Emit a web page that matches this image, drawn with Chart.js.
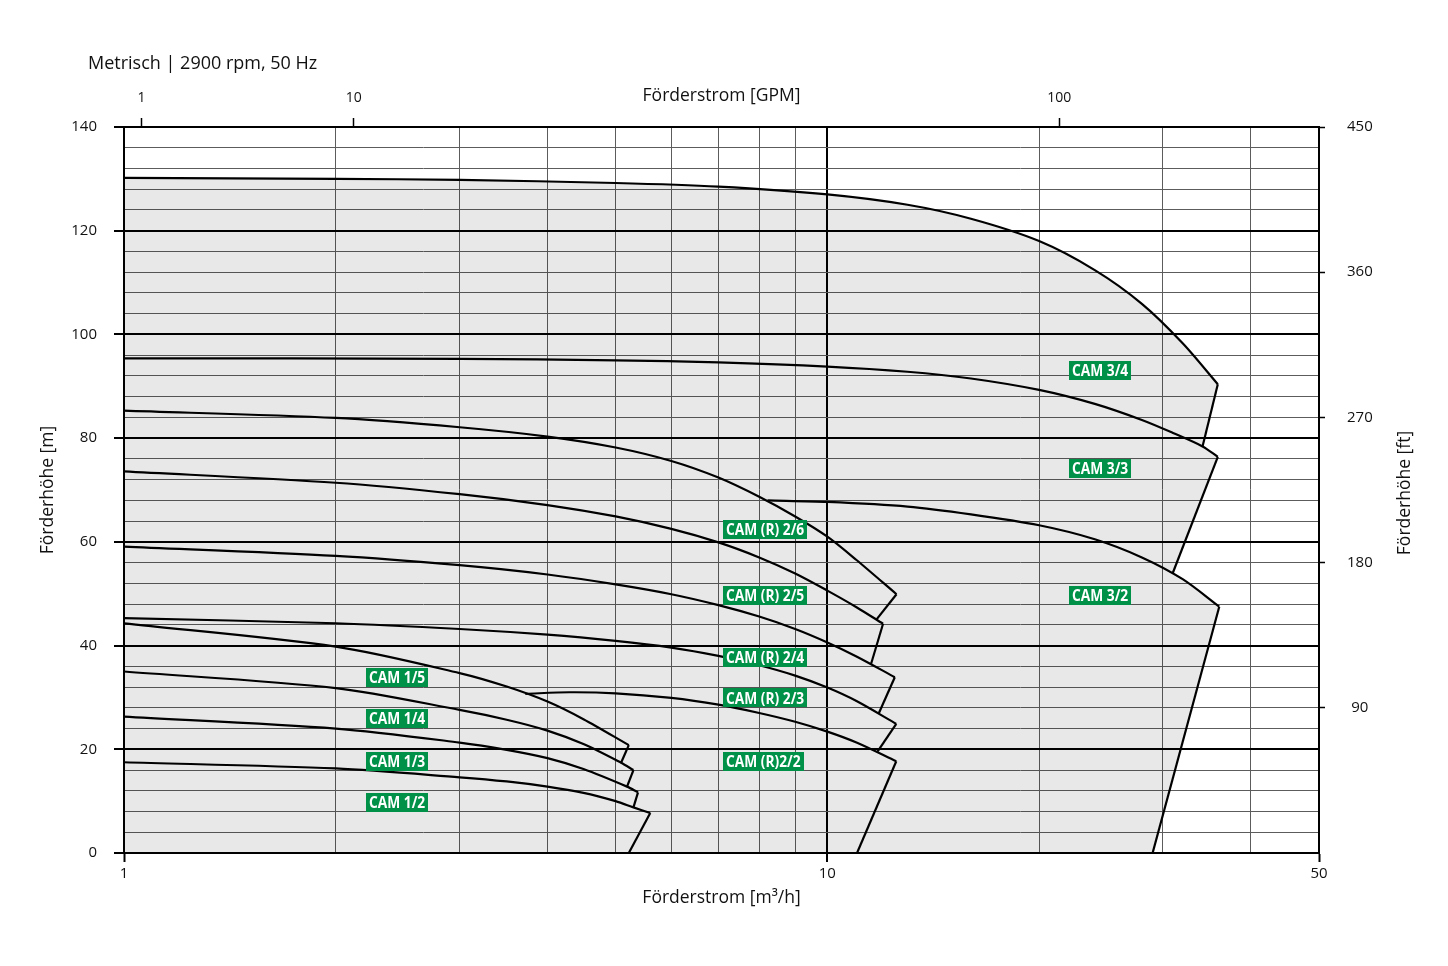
<!DOCTYPE html>
<html lang="de">
<head>
<meta charset="utf-8">
<title>CAM Kennlinien</title>
<script src="https://cdn.jsdelivr.net/npm/chart.js@4.4.1/dist/chart.umd.min.js"></script>
<style>
  html, body { margin: 0; padding: 0; background: #fff; }
  #box { width: 1448px; height: 966px; }
</style>
</head>
<body>
<div id="box"><canvas id="kennlinie"></canvas></div>
<script>
var schrift = "'Open Sans', 'Noto Sans', sans-serif";

var kopfzeile = "Metrisch | 2900 rpm, 50 Hz";
var titelX = "Förderstrom [m³/h]";
var titelX2 = "Förderstrom [GPM]";
var titelY = "Förderhöhe [m]";
var titelY2 = "Förderhöhe [ft]";

// Förderstrom [m3/h] und Förderhöhe [m]
var cam12Q = [1, 2, 3, 3.5, 4, 4.5, 5, 5.3, 5.6];
var cam12H = [17.5, 16.3, 14.6, 13.8, 12.8, 11.6, 10.0, 8.8, 7.7];
var cam13Q = [1, 2, 3, 3.5, 4, 4.5, 5.19, 5.38];
var cam13H = [26.3, 24.0, 21.3, 19.9, 18.3, 16.2, 12.8, 11.7];
var cam14Q = [1, 2, 3, 3.5, 4, 4.5, 5.09, 5.3];
var cam14H = [35.0, 31.8, 27.6, 25.7, 23.6, 21.0, 17.4, 16.0];
var cam15Q = [1, 2, 3, 3.5, 4, 4.5, 5.22];
var cam15H = [44.3, 39.8, 34.7, 32.1, 29.2, 25.8, 20.8];

var cam22Q = [3.72, 4.3, 5, 6, 7, 8, 9, 10, 11, 12.53];
var cam22H = [30.7, 31.0, 30.8, 29.9, 28.6, 27.0, 25.3, 23.4, 21.3, 17.7];
var cam23Q = [1, 2, 3, 4, 5, 6, 7, 8, 9, 10, 11, 12.53];
var cam23H = [45.3, 44.3, 43.2, 42.1, 40.9, 39.6, 38.0, 36.2, 34.2, 31.9, 29.3, 24.9];
var cam24Q = [1, 2, 3, 4, 5, 6, 7, 8, 9, 10, 11, 12.47];
var cam24H = [59.1, 57.3, 55.5, 53.7, 51.8, 49.9, 47.8, 45.6, 43.2, 40.6, 37.9, 33.9];
var cam25Q = [1, 2, 3, 4, 5, 6, 7, 8, 9, 10, 11, 12];
var cam25H = [73.6, 71.4, 69.2, 67.1, 64.9, 62.5, 59.9, 57.0, 53.9, 50.6, 47.4, 44.2];
var cam26Q = [1, 2, 3, 4, 5, 6, 7, 8, 9, 10, 11, 12.54];
var cam26H = [85.3, 83.9, 82.1, 80.3, 78.2, 75.6, 72.4, 68.7, 64.9, 61.0, 56.5, 49.9];

var cam32Q = [8.22, 10, 13, 16, 20, 24, 28, 32, 36.07];
var cam32H = [68.0, 67.7, 66.8, 65.3, 63.2, 60.5, 57.0, 52.8, 47.5];
var cam33Q = [1, 3, 5, 7, 10, 13, 16, 20, 24, 28, 31, 34.15, 35.9];
var cam33H = [95.4, 95.3, 95.0, 94.6, 93.8, 92.8, 91.5, 89.3, 86.6, 83.5, 81.0, 78.4, 76.4];
var cam34Q = [1, 2, 3, 5, 7, 10, 13, 16, 20, 24, 28, 32, 35.9];
var cam34H = [130.2, 130.0, 129.8, 129.2, 128.5, 127.0, 125.0, 122.3, 118.0, 112.4, 105.9, 98.3, 90.4];

// Verbindungslinie vom Kurvenende nach unten (Reihenfolge wie kurven)
var kurven = [
  [cam12Q, cam12H], [cam13Q, cam13H], [cam14Q, cam14H], [cam15Q, cam15H],
  [cam22Q, cam22H], [cam23Q, cam23H], [cam24Q, cam24H], [cam25Q, cam25H], [cam26Q, cam26H],
  [cam32Q, cam32H], [cam33Q, cam33H], [cam34Q, cam34H]
];
var zielQ = [5.22, 5.30, 5.19, 5.09, 11.02, 11.79, 11.83, 11.54, 11.74, 29.0, 30.96, 34.15];
var zielH = [0, 8.8, 12.8, 17.4, 0, 19.6, 26.9, 36.5, 45.0, 0, 53.9, 78.4];

// Beschriftungen (linke Kante)
var etikettText = ["CAM 3/4", "CAM 3/3", "CAM 3/2",
  "CAM (R) 2/6", "CAM (R) 2/5", "CAM (R) 2/4", "CAM (R) 2/3", "CAM (R)2/2",
  "CAM 1/5", "CAM 1/4", "CAM 1/3", "CAM 1/2"];
var etikettQ = [22.09, 22.09, 22.09, 7.10, 7.10, 7.10, 7.10, 7.10, 2.209, 2.209, 2.209, 2.209];
var etikettH = [93.1, 74.2, 49.7, 62.3, 49.7, 37.7, 29.9, 17.6, 33.8, 26.0, 17.6, 9.7];

// Achsen
var xGitter = [1, 2, 3, 4, 5, 6, 7, 8, 9, 10, 20, 30, 40, 50];
var xBeschriftet = [1, 10, 50];
var gpmText = ["1", "10", "100"];
var gpmPos = [1.059, 2.121, 21.36];

function punkte(q, h) {
  return q.map(function (v, i) { return {x: v, y: h[i]}; });
}

var datensaetze = [];
kurven.forEach(function (k, i) {
  var n = k[0].length - 1;
  datensaetze.push({
    data: punkte(k[0], k[1]),
    borderColor: '#000', borderWidth: 2.2, pointRadius: 0,
    tension: 0.3, fill: false, order: 0
  });
  datensaetze.push({
    data: [{x: k[0][n], y: k[1][n]}, {x: zielQ[i], y: zielH[i]}],
    borderColor: '#000', borderWidth: 2.2, pointRadius: 0, fill: false, order: 0
  });
});

// graue Fläche: Umriss aller Kurven, geschlossen über die Nulllinie
var huelle = punkte(cam34Q, cam34H)
  .concat([{x: zielQ[11], y: zielH[11]}])
  .concat(punkte(cam33Q, cam33H).filter(function (p) { return p.x > zielQ[11]; }))
  .concat([{x: zielQ[10], y: zielH[10]}])
  .concat(punkte(cam32Q, cam32H).filter(function (p) { return p.x > zielQ[10]; }))
  .concat([{x: zielQ[9], y: zielH[9]}, {x: 1, y: 0}]);

datensaetze.push({
  data: huelle,
  borderColor: 'rgba(0,0,0,0)', borderWidth: 0, pointRadius: 0, tension: 0,
  fill: 'shape', backgroundColor: 'rgba(0,0,0,0.09)', order: 5
});

var etikettPlugin = {
  id: 'etiketten',
  afterDatasetsDraw: function (chart) {
    var ctx = chart.ctx;
    var sx = chart.scales.x, sy = chart.scales.y;
    var enge = 0.86;
    ctx.save();
    ctx.font = 'bold 16px ' + schrift;
    ctx.textAlign = 'left';
    ctx.textBaseline = 'middle';
    etikettText.forEach(function (t, i) {
      var px = Math.round(sx.getPixelForValue(etikettQ[i]));
      var py = sy.getPixelForValue(etikettH[i]);
      var w = Math.round(ctx.measureText(t).width * enge + 6);
      ctx.fillStyle = '#009149';
      ctx.fillRect(px, Math.round(py - 9.5), w, 19);
      ctx.save();
      ctx.translate(px + 3, py + 1);
      ctx.scale(enge, 1);
      ctx.fillStyle = '#fff';
      ctx.fillText(t, 0, 0);
      ctx.restore();
    });
    ctx.restore();
  }
};

var textPlugin = {
  id: 'texte',
  afterDraw: function (chart) {
    var ctx = chart.ctx;
    ctx.save();
    ctx.fillStyle = '#111';
    ctx.font = '18px ' + schrift;
    ctx.textAlign = 'left';
    ctx.textBaseline = 'alphabetic';
    ctx.fillText(kopfzeile, 88, 69);
    ctx.translate(1410, 493);
    ctx.rotate(-Math.PI / 2);
    ctx.font = '17.5px ' + schrift;
    ctx.textAlign = 'center';
    ctx.fillText(titelY2, 0, 0);
    ctx.restore();
  }
};

new Chart(document.getElementById('kennlinie'), {
  type: 'line',
  data: { datasets: datensaetze },
  options: {
    responsive: true,
    maintainAspectRatio: false,
    animation: false,
    events: [],
    layout: { padding: 0 },
    plugins: { legend: { display: false }, title: { display: false }, tooltip: { enabled: false } },
    scales: {
      x: {
        type: 'logarithmic', position: 'bottom', min: 1, max: 50,
        afterBuildTicks: function (s) { s.ticks = xGitter.map(function (v) { return {value: v}; }); },
        afterFit: function (s) { s.height = 113; },
        ticks: {
          autoSkip: false, maxRotation: 0, padding: 3, color: '#111',
          font: { family: schrift, size: 15 },
          callback: function (v) { return xBeschriftet.indexOf(v) >= 0 ? String(v) : ''; }
        },
        grid: {
          color: function (c) { return (c.tick && (c.tick.value === 10 || c.tick.value === 1 || c.tick.value === 50)) ? '#000' : '#5c5c5c'; },
          lineWidth: function (c) { return (c.tick && c.tick.value === 10) ? 2 : 1; },
          tickLength: 9,
          tickWidth: 2,
          tickColor: function (c) { return (c.tick && xBeschriftet.indexOf(c.tick.value) >= 0) ? '#000' : 'rgba(0,0,0,0)'; }
        },
        border: { color: '#000', width: 2 },
        title: { display: true, text: titelX, color: '#111', font: { family: schrift, size: 17.5 }, padding: { top: 0, bottom: 57 } }
      },
      x2: {
        type: 'logarithmic', position: 'top', min: 1, max: 50,
        afterBuildTicks: function (s) { s.ticks = gpmPos.map(function (v) { return {value: v}; }); },
        afterFit: function (s) { s.height = 127; },
        ticks: {
          autoSkip: false, maxRotation: 0, padding: 12, color: '#111',
          font: { family: schrift, size: 14 },
          callback: function (v, i) { return gpmText[i]; }
        },
        grid: { drawOnChartArea: false, tickLength: 9, tickWidth: 1.5, tickColor: '#000' },
        border: { color: '#000', width: 2 },
        title: { display: true, text: titelX2, color: '#111', font: { family: schrift, size: 17.5 }, padding: { top: 86, bottom: 0 } }
      },
      y: {
        type: 'linear', position: 'left', min: 0, max: 140,
        afterFit: function (s) { s.width = 124; },
        ticks: {
          stepSize: 4, autoSkip: false, padding: 17, color: '#111',
          font: { family: schrift, size: 15 },
          callback: function (v) { return v % 20 === 0 ? String(v) : ''; }
        },
        grid: {
          color: function (c) { return (c.tick && c.tick.value % 20 === 0) ? '#000' : '#5c5c5c'; },
          lineWidth: function (c) { return (c.tick && c.tick.value % 20 === 0) ? 2 : 1; },
          tickLength: 10,
          tickWidth: 2,
          tickColor: function (c) { return (c.tick && c.tick.value % 20 === 0) ? '#000' : 'rgba(0,0,0,0)'; }
        },
        border: { color: '#000', width: 2 },
        title: { display: true, text: titelY, color: '#111', font: { family: schrift, size: 17.5 }, padding: { top: 38, bottom: 0 } }
      },
      y2: {
        type: 'linear', position: 'right', min: 0, max: 450,
        afterFit: function (s) { s.width = 129; },
        ticks: {
          stepSize: 90, autoSkip: false, padding: 22, crossAlign: 'center', color: '#111',
          font: { family: schrift, size: 15 },
          callback: function (v) { return v === 0 ? '' : String(v); }
        },
        grid: {
          drawOnChartArea: false, tickLength: 6, tickWidth: 1.5,
          tickColor: function (c) { return (c.tick && c.tick.value === 0) ? 'rgba(0,0,0,0)' : '#000'; }
        },
        border: { color: '#000', width: 2 }
      }
    }
  },
  plugins: [etikettPlugin, textPlugin]
});
</script>
</body>
</html>
